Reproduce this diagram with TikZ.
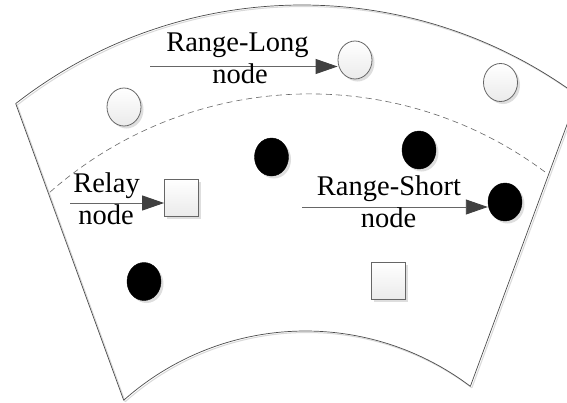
\documentclass[tikz,border=0pt]{standalone}
\usepackage{fontspec}
\setmainfont{Liberation Serif}
\usetikzlibrary{shapes.geometric,arrows.meta,shadows,calc}
\begin{document}
\begin{tikzpicture}[x=1pt,y=-1pt,
  lbl/.style={font=\fontsize{28.5}{31}\selectfont, inner sep=0pt, anchor=base},
  nshadow/.style={drop shadow={shadow xshift=2.5pt,shadow yshift=-2.5pt,fill=black!13,opacity=1}},
  wnode/.style={ellipse, draw=black!60, line width=0.8pt, top color=white, bottom color=black!8, minimum width=34pt, minimum height=38pt, inner sep=0pt, nshadow},
  bnode/.style={ellipse, draw=black, fill=black, minimum width=34pt, minimum height=38pt, inner sep=0pt, nshadow},
  snode/.style={rectangle, draw=black!60, line width=0.8pt, top color=white, bottom color=black!8, minimum width=34pt, minimum height=37pt, inner sep=0pt, nshadow},
  ptr/.style={draw=black!60, line width=0.9pt, -{Triangle[length=22pt,width=15pt,color=black!75,fill=black!75]}},
  rim/.style={draw=black!70, line width=0.7pt},
  rimshadow/.style={draw=black!15, line width=1pt},
  dashrim/.style={draw=black!60, line width=0.6pt, dash pattern=on 6pt off 4pt},
]
\useasboundingbox (0,0) rectangle (567,402);
\clip (0,0) rectangle (567,402);
\fill[white] (0,0) rectangle (567,402);

% sector outline (shadow then line)
\begin{scope}[shift={(1.5,1.5)}]
\draw[rimshadow] plot[domain=128:45, samples=120] ({302+465*cos(\x)},{470-465*sin(\x)});
\draw[rimshadow] ({302+465*cos(128)},{470-465*sin(128)}) -- ({305.5+273.3*cos(131.7)},{604.3-273.3*sin(131.7)});
\draw[rimshadow] plot[domain=131.7:52.9, samples=100] ({305.5+273.3*cos(\x)},{604.3-273.3*sin(\x)});
\draw[rimshadow] ({305.5+273.3*cos(52.9)},{604.3-273.3*sin(52.9)}) -- ++(113,-306);
\end{scope}
\draw[rim] plot[domain=128:45, samples=120] ({302+465*cos(\x)},{470-465*sin(\x)});
\draw[rim] ({302+465*cos(128)},{470-465*sin(128)}) -- ({305.5+273.3*cos(131.7)},{604.3-273.3*sin(131.7)});
\draw[rim] plot[domain=131.7:52.9, samples=100] ({305.5+273.3*cos(\x)},{604.3-273.3*sin(\x)});
\draw[rim] ({305.5+273.3*cos(52.9)},{604.3-273.3*sin(52.9)}) -- ++(113,-306);
\draw[dashrim] plot[domain=131.4:52.5, samples=120] ({309.9+393.1*cos(\x)},{487-393.1*sin(\x)});

% nodes
\node[wnode] (w1) at (124,107) {};
\node[wnode] (w2) at (355,60) {};
\node[wnode] (w3) at (500.5,82.5) {};
\node[bnode] (b1) at (271.5,157) {};
\node[bnode] (b2) at (419,150) {};
\node[bnode] (b3) at (505,202) {};
\node[bnode] (b4) at (144,281.5) {};
\node[snode] (s1) at (181.5,198) {};
\node[snode] (s2) at (388,281) {};

% pointers
\coordinate (a1) at (150,66.5);
\draw[ptr] (a1) -- (a1 -| w2.west);
\coordinate (a2) at (70,203);
\draw[ptr] (a2) -- (a2 -| s1.west);
\coordinate (a3) at (302,207);
\draw[ptr] (a3) -- (a3 -| b3.west);

% labels
\node[lbl] (t1) at (237.5,51) {Range-Long};
\node[lbl] (t1b) at (240,83) {node};
\node[lbl] (t2) at (106.5,192) {Relay};
\node[lbl] (t2b) at (106,224) {node};
\node[lbl] (t3) at (389,195) {Range-Short};
\node[lbl] (t3b) at (388.5,227) {node};
\end{tikzpicture}
\end{document}
